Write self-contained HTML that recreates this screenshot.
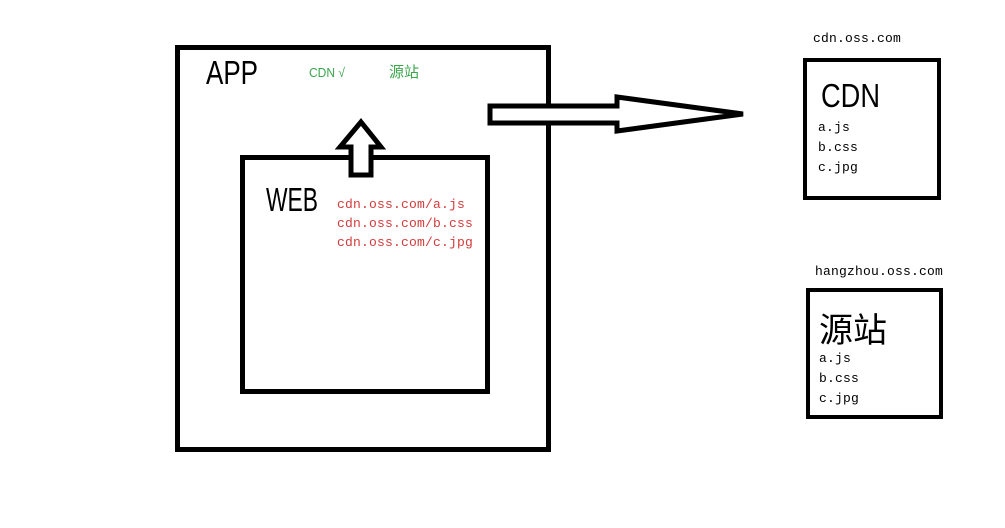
<!DOCTYPE html>
<html><head><meta charset="utf-8"><style>
html,body{margin:0;padding:0;background:#fff;width:1005px;height:528px;overflow:hidden}
svg{display:block}
.m{font-family:"Liberation Mono","Noto Sans CJK SC",monospace;font-size:13px;letter-spacing:0.2px}
.big{font-family:"Liberation Sans","Noto Sans CJK SC",sans-serif;font-size:33px}
</style></head><body>
<svg width="1005" height="528" viewBox="0 0 1005 528">
<rect x="0" y="0" width="1005" height="528" fill="#fff"/>
<rect x="177.5" y="47.5" width="371" height="402" fill="none" stroke="#000" stroke-width="5"/>
<text x="206" y="84" class="big" textLength="52" lengthAdjust="spacingAndGlyphs">APP</text>
<text x="309" y="77" fill="#3aa64c" textLength="36" lengthAdjust="spacingAndGlyphs" style="font-family:'Liberation Sans','Noto Sans CJK SC',sans-serif;font-size:13px">CDN √</text>
<text x="389" y="77" fill="#3aa64c" style="font-family:'Noto Sans CJK SC',sans-serif;font-size:15px">源站</text>
<rect x="242.5" y="157.5" width="245" height="234" fill="none" stroke="#000" stroke-width="5"/>
<text x="266" y="211" class="big" textLength="52" lengthAdjust="spacingAndGlyphs">WEB</text>
<text x="337" y="208" class="m" fill="#d43a3a">cdn.oss.com/a.js</text>
<text x="337" y="227" class="m" fill="#d43a3a">cdn.oss.com/b.css</text>
<text x="337" y="246" class="m" fill="#d43a3a">cdn.oss.com/c.jpg</text>
<polygon points="361,122 381,147 371,147 371,175 351,175 351,147 340,147" fill="#fff" stroke="#000" stroke-width="5" stroke-linejoin="miter"/>
<polygon points="490,106 617,106 617,97 743,114 617,131 617,123 490,123" fill="#fff" stroke="#000" stroke-width="5"/>
<text x="813" y="42" class="m">cdn.oss.com</text>
<rect x="805" y="60" width="134" height="138" fill="none" stroke="#000" stroke-width="4"/>
<text x="821" y="107" class="big" textLength="59" lengthAdjust="spacingAndGlyphs">CDN</text>
<text x="818" y="131" class="m">a.js</text>
<text x="818" y="151" class="m">b.css</text>
<text x="818" y="171" class="m">c.jpg</text>
<text x="815" y="275" class="m">hangzhou.oss.com</text>
<rect x="808" y="290" width="133" height="127" fill="none" stroke="#000" stroke-width="4"/>
<text x="819" y="342" style="font-family:'Noto Sans CJK SC',sans-serif;font-size:34px">源站</text>
<text x="819" y="362" class="m">a.js</text>
<text x="819" y="382" class="m">b.css</text>
<text x="819" y="402" class="m">c.jpg</text>
</svg>
</body></html>
